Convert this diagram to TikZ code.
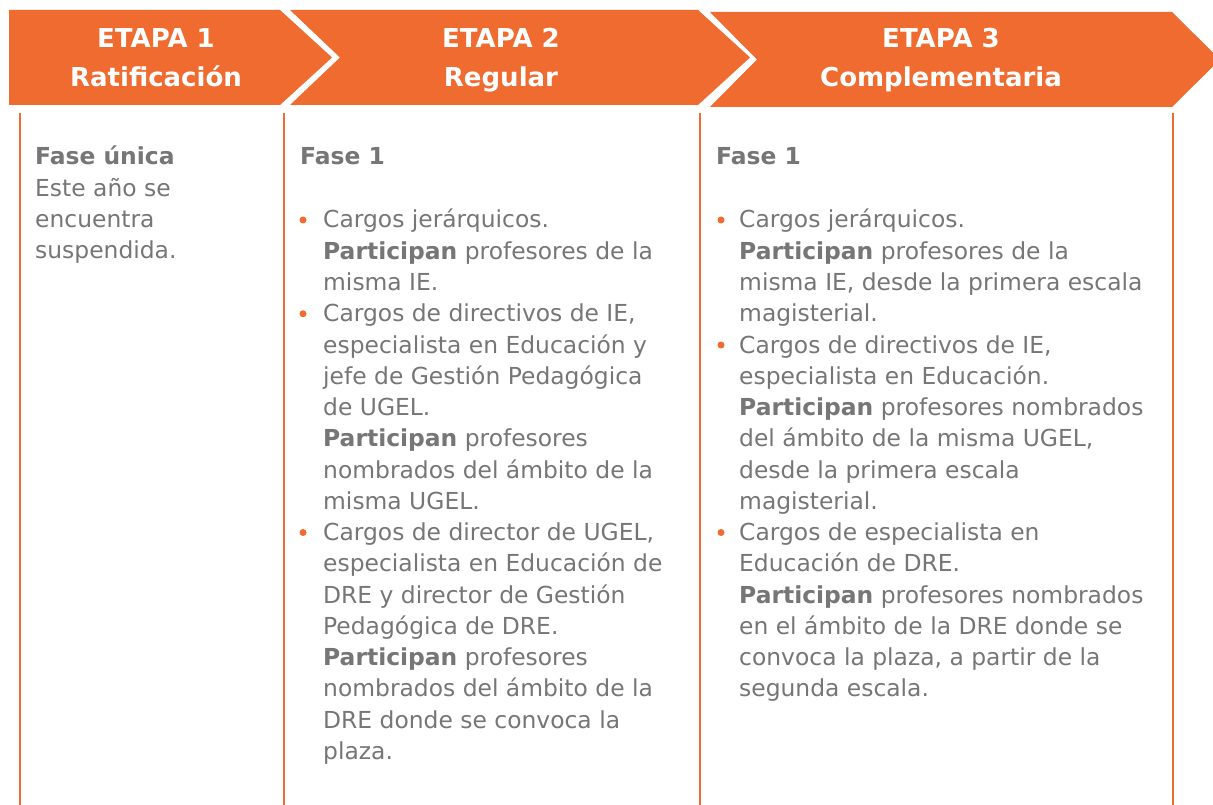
\documentclass[tikz,border=0pt]{standalone}
\usepackage{fontspec}
\setmainfont{DejaVu Sans}
\definecolor{orng}{HTML}{F06B2F}
\definecolor{txtg}{HTML}{767676}
\tikzset{
  hdr/.style={fill=orng, draw=none},
  vline/.style={draw=orng, line width=2pt},
  htext/.style={anchor=base, inner sep=0pt, text=white, font=\fontsize{26}{39}\selectfont\bfseries},
  body/.style={anchor=base west, inner sep=0pt, text=txtg, font=\fontsize{23.4}{31.25}\selectfont},
  dot/.style={circle, fill=orng, minimum size=7pt, inner sep=0pt},
}
\newcommand\blk[1]{\begin{minipage}[t]{440pt}\raggedright #1\end{minipage}}
\newcommand\hd[2]{\def\arraystretch{1}\begin{tabular}[t]{@{}c@{}}#1\\#2\end{tabular}}
\begin{document}
\begin{tikzpicture}[x=1pt,y=-1pt]
\useasboundingbox (0,0) rectangle (1213,805);
\fill[white] (0,0) rectangle (1213,805);
% header chevrons
\fill[hdr] (9,10) -- (280,10) -- (332,57.5) -- (280,105) -- (9,105) -- cycle;
\fill[hdr] (290,10) -- (698,10) -- (750,57.5) -- (698,105) -- (290,105) -- (340,57.5) -- cycle;
\fill[hdr] (710,12) -- (1172,12) -- (1220,59.5) -- (1172,107) -- (710,107) -- (757,59.5) -- cycle;
\node[htext] (h1) at (156,48) {\hd{ETAPA 1}{Ratificación}};
\node[htext] (h2) at (501,48) {\hd{ETAPA 2}{Regular}};
\node[htext] (h3) at (941,48) {\hd{ETAPA 3}{Complementaria}};
% column lines
\draw[vline] (20,113) -- (20,805);
\draw[vline] (284,113) -- (284,805);
\draw[vline] (700,113) -- (700,805);
\draw[vline] (1173,113) -- (1173,805);
% column 1
\node[body] (c1) at (35,165) {\blk{\textbf{Fase única}\\Este año se\\encuentra\\suspendida.}};
% column 2
\node[body] (f2) at (300,165) {\blk{\textbf{Fase 1}}};
\node[dot] (b21) at (303,220) {};
\node[body] (i21) at (323,228) {\blk{Cargos jerárquicos.\\\textbf{Participan} profesores de la\\misma IE.}};
\node[dot] (b22) at (303,313.75) {};
\node[body] (i22) at (323,321.75) {\blk{Cargos de directivos de IE,\\especialista en Educación y\\jefe de Gestión Pedagógica\\de UGEL.\\\textbf{Participan} profesores\\nombrados del ámbito de la\\misma UGEL.}};
\node[dot] (b23) at (303,532.5) {};
\node[body] (i23) at (323,540.5) {\blk{Cargos de director de UGEL,\\especialista en Educación de\\DRE y director de Gestión\\Pedagógica de DRE.\\\textbf{Participan} profesores\\nombrados del ámbito de la\\DRE donde se convoca la\\plaza.}};
% column 3
\node[body] (f3) at (716,165) {\blk{\textbf{Fase 1}}};
\node[dot] (b31) at (721,220) {};
\node[body] (i31) at (739,228) {\blk{Cargos jerárquicos.\\\textbf{Participan} profesores de la\\misma IE, desde la primera escala\\magisterial.}};
\node[dot] (b32) at (721,345) {};
\node[body] (i32) at (739,353) {\blk{Cargos de directivos de IE,\\especialista en Educación.\\\textbf{Participan} profesores nombrados\\del ámbito de la misma UGEL,\\desde la primera escala\\magisterial.}};
\node[dot] (b33) at (721,532.5) {};
\node[body] (i33) at (739,540.5) {\blk{Cargos de especialista en\\Educación de DRE.\\\textbf{Participan} profesores nombrados\\en el ámbito de la DRE donde se\\convoca la plaza, a partir de la\\segunda escala.}};
\end{tikzpicture}
\end{document}
